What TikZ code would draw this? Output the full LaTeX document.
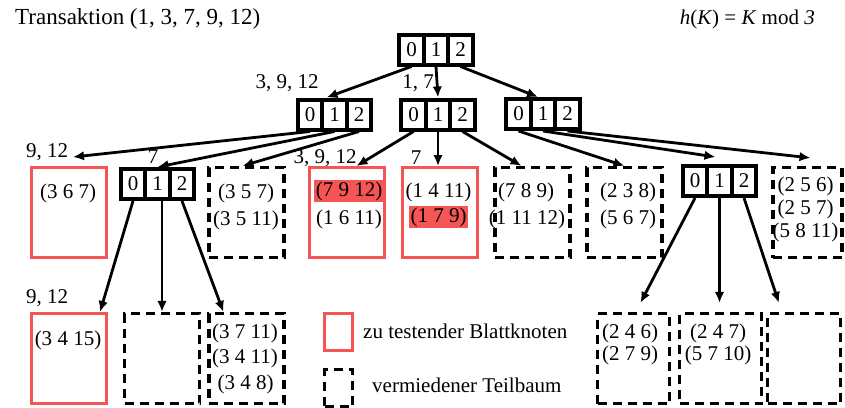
\documentclass[tikz,border=0pt]{standalone}
\usepackage{fontspec}
\setmainfont{Liberation Serif}
\usetikzlibrary{arrows.meta,calc}
\definecolor{leafred}{RGB}{245,85,85}
\begin{document}
\begin{tikzpicture}[x=1pt,y=-1pt,
  font=\fontsize{21}{25}\selectfont,
  hcell/.style={draw,line width=4pt,minimum width=24.5pt,minimum height=30pt,inner sep=0pt},
  redleaf/.style={draw=leafred,line width=3pt,minimum width=75pt,minimum height=90pt,inner sep=0pt},
  dashleaf/.style={draw,line width=3.2pt,dash pattern=on 9pt off 6pt,minimum width=75pt,minimum height=90pt,inner sep=0pt},
  conn/.style={line width=2.8pt,-{Latex[length=11pt,width=9.5pt]}},
  txt/.style={inner sep=0pt},
  hl/.style={fill=leafred,inner sep=1.5pt}
]
\useasboundingbox (0,0) rectangle (845,407);

% title and formula
\node[txt,anchor=west,font=\fontsize{23}{27}\selectfont] (title) at (15,19) {Transaktion (1, 3, 7, 9, 12)};
\node[txt,anchor=east] (formula) at (815,19) {\textit{h}(\textit{K}) = \textit{K} mod \textit{3}};

% hash nodes
\foreach \n/\x/\y in {r/436/49.5, a/334.5/114.5, b/438/114.5, c/543/114, d/157.5/184, e/719.5/181}{
  \node[hcell] (\n0) at (\x-24.5,\y) {0};
  \node[hcell] (\n1) at (\x,\y) {1};
  \node[hcell] (\n2) at (\x+24.5,\y) {2};
}

% level 3 leaves
\node[redleaf] (red1) at (69,212.5) {};
\node[dashleaf] (n1) at (246.5,212.5) {};
\node[redleaf] (red2) at (346.5,212.5) {};
\node[redleaf] (red3) at (439.5,212.5) {};
\node[dashleaf] (n2) at (532.5,212.5) {};
\node[dashleaf] (n3) at (624.5,212.5) {};
\node[dashleaf,minimum width=69pt] (n4) at (807.5,212.5) {};

% level 4 leaves
\node[redleaf] (red4) at (69,358.5) {};
\node[dashleaf] (n5) at (162,358.5) {};
\node[dashleaf] (n6) at (246.5,358.5) {};
\node[dashleaf,minimum width=72pt] (n7) at (633.5,358.5) {};
\node[dashleaf,minimum width=82pt] (n8) at (720.5,358.5) {};
\node[dashleaf,minimum width=73pt] (n9) at (804,358.5) {};

% leaf contents
\node[txt] (t1) at (68,193) {(3 6 7)};
\node[txt] (t2) at (246,193) {(3 5 7)};
\node[txt] (t3) at (246,220) {(3 5 11)};
\node[hl] (t4) at (349,191) {(7 9 12)};
\node[txt] (t5) at (349,219) {(1 6 11)};
\node[txt] (t6) at (438.5,192) {(1 4 11)};
\node[hl] (t7) at (438.5,217) {(1 7 9)};
\node[txt] (t8) at (526,192) {(7 8 9)};
\node[txt] (t9) at (527,219) {(1 11 12)};
\node[txt] (t10) at (628,192) {(2 3 8)};
\node[txt] (t11) at (628,219) {(5 6 7)};
\node[txt] (t12) at (805.5,186) {(2 5 6)};
\node[txt] (t13) at (805.5,209) {(2 5 7)};
\node[txt] (t14) at (805.5,232) {(5 8 11)};
\node[txt] (t15) at (68,340) {(3 4 15)};
\node[txt] (t16) at (245,333) {(3 7 11)};
\node[txt] (t17) at (245,358) {(3 4 11)};
\node[txt] (t18) at (245.5,384) {(3 4 8)};
\node[txt] (t19) at (630,333) {(2 4 6)};
\node[txt] (t20) at (630,355) {(2 7 9)};
\node[txt] (t21) at (718,333) {(2 4 7)};
\node[txt] (t22) at (718,355) {(5 7 10)};

% arrow labels
\node[txt] (l1) at (287,83) {3, 9, 12};
\node[txt] (l2) at (418,83) {1, 7};
\node[txt] (l3) at (47,152) {9, 12};
\node[txt] (l4) at (153,157) {7};
\node[txt] (l5) at (325,158) {3, 9, 12};
\node[txt] (l6) at (416,158) {7};
\node[txt] (l7) at (47,298) {9, 12};

% legend
\node[redleaf,minimum width=28pt,minimum height=37pt] (lgr) at (338.5,332) {};
\node[dashleaf,minimum width=28pt,minimum height=37pt] (lgd) at (338.5,388) {};
\node[txt,anchor=west] (lgrt) at (363,331) {zu testender Blattknoten};
\node[txt,anchor=west] (lgdt) at (372,385) {vermiedener Teilbaum};

% connectors from root
\draw[conn] (r0.south) -- ($(a1.north)+(-8,0)$);
\draw[conn] (r1.south) -- (b1.north);
\draw[conn] (r2.south) -- ($(c1.north)+(-5,0)$);
% from a
\draw[conn] (a0.south) -- ($(red1.north)+(4,-9)$);
\draw[conn] (a1.south) -- (d1.north);
\draw[conn] (a2.south) -- ($(n1.north)+(-4,0)$);
% from b
\draw[conn] (b0.south) -- ($(red2.north)+(10,0)$);
\draw[conn] (b1.south) -- (b1.south |- red3.north);
\draw[conn] (b2.south) -- ($(n2.north)+(-11,0)$);
% from c
\draw[conn] (c0.south) -- (n3.north);
\draw[conn] (c1.south) -- ($(e1.north)+(-4,-7)$);
\draw[conn] (c2.south) -- ($(n4.north)+(3,-8)$);
% from d
\draw[conn] (d0.south) -- ($(red4.north east)+(-8,0)$);
\draw[conn] (n5.north |- d1.south) -- (n5.north);
\draw[conn] (d2.south) -- ($(n6.north west)+(16,0)$);
% from e
\draw[conn] (e0.south) -- ($(n7.north)+(7,-9)$);
\draw[conn] (e1.south) -- ($(e1.south |- n8.north)+(0,-9)$);
\draw[conn] (e2.south) -- ($(n9.north west)+(13,-9)$);
\end{tikzpicture}
\end{document}
